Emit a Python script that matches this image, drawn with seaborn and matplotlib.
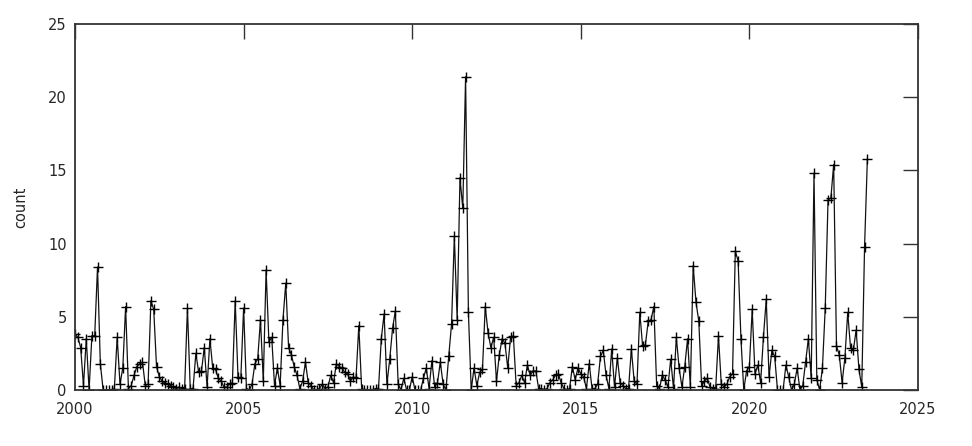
import numpy as np
import pandas as pd
import matplotlib
matplotlib.use('Agg')
import matplotlib.pyplot as plt
import seaborn as sns

# Monthly counts (Jan 2000 .. Jul 2023)
y2000 = [3.8, 3.6, 2.9, 0.3, 3.5, 0.0, 3.7, 3.7, 8.4, 1.8, 0.0, 0.0]
y2001 = [0.0, 0.0, 0.1, 3.6, 0.4, 1.5, 5.7, 0.1, 0.3, 1.0, 1.6, 1.8]
y2002 = [1.9, 0.3, 0.4, 6.1, 5.5, 1.6, 0.9, 0.6, 0.5, 0.4, 0.3, 0.2]
y2003 = [0.1, 0.2, 0.1, 0.1, 5.6, 0.1, 0.1, 2.5, 1.2, 1.3, 2.9, 0.2]
y2004 = [3.5, 1.5, 1.4, 0.8, 0.6, 0.2, 0.2, 0.4, 0.5, 6.1, 0.9, 0.8]
y2005 = [5.6, 0.1, 0.0, 0.4, 1.8, 2.1, 4.8, 0.6, 8.2, 3.3, 3.6, 0.3]
y2006 = [1.5, 0.3, 4.8, 7.3, 2.9, 2.4, 1.6, 1.0, 0.1, 0.6, 1.9, 0.5]
y2007 = [0.3, 0.0, 0.0, 0.1, 0.4, 0.1, 0.2, 1.0, 0.5, 1.8, 1.6, 1.5]
y2008 = [1.2, 1.1, 0.6, 0.9, 0.8, 4.4, 0.1, 0.0, 0.0, 0.0, 0.0, 0.1]
y2009 = [0.1, 3.5, 5.2, 0.4, 2.1, 4.2, 5.4, 0.4, 0.0, 0.8, 0.0, 0.0]
y2010 = [0.9, 0.0, 0.0, 0.0, 0.8, 1.5, 0.1, 2.0, 0.2, 0.5, 1.9, 0.4]
y2011 = [0.0, 2.3, 4.5, 10.5, 4.8, 14.5, 12.4, 21.4, 5.3, 0.0, 1.5, 0.3]
y2012 = [1.2, 1.4, 5.7, 3.9, 2.9, 3.6, 0.6, 2.4, 3.5, 3.2, 1.5, 3.6]
y2013 = [3.7, 0.3, 0.5, 1.0, 0.5, 1.7, 1.0, 1.3, 1.3, 0.1, 0.1, 0.0]
y2014 = [0.1, 0.5, 0.7, 1.0, 1.1, 0.5, 0.1, 0.0, 0.1, 1.6, 0.7, 1.5]
y2015 = [1.1, 0.9, 0.1, 1.8, 0.1, 0.1, 0.4, 2.3, 2.7, 1.0, 0.1, 2.8]
y2016 = [0.2, 2.2, 0.5, 0.3, 0.1, 0.1, 2.8, 0.6, 0.4, 5.3, 3.0, 3.1]
y2017 = [4.7, 4.8, 5.7, 0.3, 0.1, 1.0, 0.7, 0.2, 2.1, 0.1, 3.6, 1.5]
y2018 = [0.2, 1.6, 3.5, 0.2, 8.5, 6.0, 4.7, 0.3, 0.6, 0.8, 0.2, 0.1]
y2019 = [0.1, 3.7, 0.4, 0.2, 0.4, 0.9, 1.1, 9.5, 8.8, 3.5, 0.0, 1.3]
y2020 = [1.6, 5.5, 1.1, 1.7, 0.5, 3.6, 6.2, 0.9, 2.7, 2.3, 0.0, 0.0]
y2021 = [0.0, 1.7, 0.9, 0.0, 0.4, 1.5, 0.0, 0.3, 1.9, 3.5, 0.8, 14.8]
y2022 = [0.7, 0.0, 1.5, 5.6, 13.0, 13.1, 15.4, 3.0, 2.4, 0.5, 2.2, 5.3]
y2023 = [2.9, 2.7, 4.1, 1.4, 0.2, 9.8, 15.8]

x_ticks = [2000, 2005, 2010, 2015, 2020, 2025]
y_ticks = [0, 5, 10, 15, 20, 25]

counts = (y2000 + y2001 + y2002 + y2003 + y2004 + y2005 + y2006 + y2007
          + y2008 + y2009 + y2010 + y2011 + y2012 + y2013 + y2014 + y2015
          + y2016 + y2017 + y2018 + y2019 + y2020 + y2021 + y2022 + y2023)

df = pd.DataFrame({'year': 2000 + np.arange(len(counts)) / 12.0,
                   'count': counts})

sns.set_style('white')
plt.rcParams['font.family'] = ['DejaVu Sans']

fig = plt.figure(figsize=(9.72, 4.46), dpi=100)
ax = fig.add_axes([0.0772, 0.1256, 0.8672, 0.8206])

sns.lineplot(data=df, x='year', y='count', ax=ax, color='#111111',
             linewidth=0.9, marker='+', markersize=7,
             markeredgecolor='black', markeredgewidth=1.0)

ax.set_xlim(2000, 2025)
ax.set_ylim(0, 25)
ax.set_xticks(x_ticks)
ax.set_yticks(y_ticks)
ax.tick_params(direction='in', length=11, width=1.0, color='#333333',
               top=True, right=True, labelsize=10.5)
ax.tick_params(axis='x', pad=9)
ax.tick_params(axis='y', pad=6)
for sp in ax.spines.values():
    sp.set_color('#333333')
    sp.set_linewidth(1.3)

ax.set_xlabel('')
ax.set_ylabel('count', fontsize=10.5, labelpad=14)

plt.savefig('out.png', dpi=100)
